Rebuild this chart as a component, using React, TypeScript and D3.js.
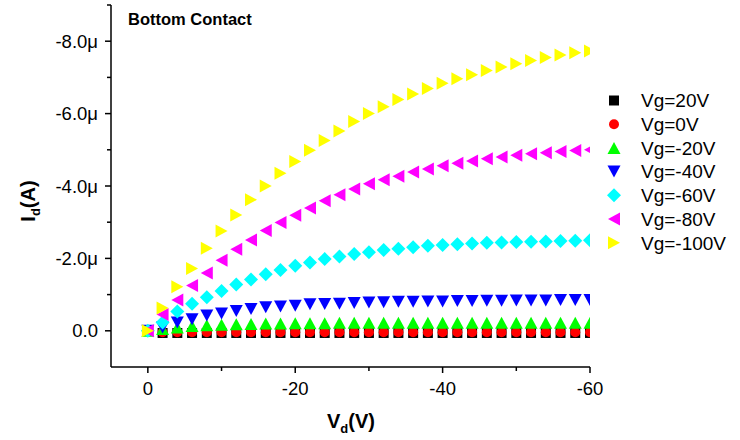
import React from "react";
import * as d3 from "d3";

const vd = [0, -2, -4, -6, -8, -10, -12, -14, -16, -18, -20, -22, -24, -26, -28, -30, -32, -34, -36, -38, -40, -42, -44, -46, -48, -50, -52, -54, -56, -58, -60];

// currents in microamps
const vg20 = [0, 0.06, 0.06, 0.06, 0.06, 0.06, 0.06, 0.06, 0.06, 0.06, 0.06, 0.06, 0.06, 0.06, 0.06, 0.06, 0.06, 0.06, 0.06, 0.06, 0.06, 0.06, 0.06, 0.06, 0.06, 0.06, 0.06, 0.06, 0.06, 0.06, 0.06];
const vg0 = [0, 0.04, 0.04, 0.04, 0.04, 0.04, 0.04, 0.04, 0.04, 0.04, 0.04, 0.04, 0.04, 0.04, 0.04, 0.04, 0.04, 0.04, 0.04, 0.04, 0.04, 0.04, 0.04, 0.04, 0.04, 0.04, 0.04, 0.04, 0.04, 0.04, 0.04];
const vgm20 = [0, -0.05, -0.09, -0.13, -0.15, -0.17, -0.18, -0.19, -0.2, -0.2, -0.21, -0.21, -0.21, -0.22, -0.22, -0.22, -0.22, -0.22, -0.22, -0.22, -0.22, -0.22, -0.22, -0.22, -0.22, -0.22, -0.22, -0.22, -0.22, -0.22, -0.22];
const vgm40 = [0, -0.09, -0.23, -0.32, -0.42, -0.48, -0.55, -0.6, -0.65, -0.67, -0.69, -0.73, -0.74, -0.75, -0.77, -0.78, -0.79, -0.8, -0.8, -0.81, -0.81, -0.82, -0.82, -0.83, -0.83, -0.84, -0.84, -0.84, -0.85, -0.85, -0.85];
const vgm60 = [0, -0.23, -0.53, -0.75, -0.93, -1.1, -1.28, -1.42, -1.56, -1.68, -1.8, -1.89, -1.98, -2.05, -2.12, -2.17, -2.23, -2.27, -2.31, -2.35, -2.37, -2.39, -2.41, -2.43, -2.44, -2.45, -2.46, -2.47, -2.48, -2.49, -2.5];
const vgm80 = [0, -0.45, -0.85, -1.25, -1.6, -1.95, -2.25, -2.51, -2.77, -2.99, -3.19, -3.39, -3.59, -3.76, -3.92, -4.06, -4.17, -4.27, -4.39, -4.47, -4.56, -4.63, -4.69, -4.75, -4.8, -4.85, -4.89, -4.92, -4.95, -4.98, -5.0];
const vgm100 = [0, -0.63, -1.22, -1.72, -2.28, -2.76, -3.2, -3.62, -4.0, -4.35, -4.68, -4.99, -5.26, -5.52, -5.78, -6.0, -6.19, -6.39, -6.54, -6.69, -6.84, -6.96, -7.07, -7.19, -7.29, -7.38, -7.47, -7.55, -7.62, -7.68, -7.73];

const seriesNames = ["Vg=20V", "Vg=0V", "Vg=-20V", "Vg=-40V", "Vg=-60V", "Vg=-80V", "Vg=-100V"];
const seriesValues = [vg20, vg0, vgm20, vgm40, vgm60, vgm80, vgm100];
const seriesColors = ["#000000", "#FF0000", "#00FF00", "#0000FF", "#00FFFF", "#FF00FF", "#FFFF00"];
const seriesShapes = ["square", "circle", "up", "down", "diamond", "left", "right"];

const xMajor = [0, -20, -40, -60];
const xMinor = [-10, -30, -50];
const yMajor = [0, -2, -4, -6, -8];
const yMinor = [-1, -3, -5, -7, -9];

const FONT = "Arial, 'Liberation Sans', sans-serif";

function shapePath(shape: string): string {
  switch (shape) {
    case "square":
      return "M-5,-5H5V5H-5Z";
    case "circle":
      return "M5,0A5,5 0 1,1 -5,0A5,5 0 1,1 5,0Z";
    case "up":
      return "M0,-6L6.5,6L-6.5,6Z";
    case "down":
      return "M0,6L6.5,-6L-6.5,-6Z";
    case "diamond":
      return "M0,-7L7,0L0,7L-7,0Z";
    case "left":
      return "M-6,0L6,-6.5L6,6.5Z";
    case "right":
      return "M6,0L-6,-6.5L-6,6.5Z";
  }
  return "";
}

export default function App() {
  const left = 111, right = 590, top = 5, bottom = 367;
  const x = d3.scaleLinear().domain([5, -60]).range([left, right]);
  const y = d3.scaleLinear().domain([1, -9]).range([bottom, top]);
  const fmtY = (v: number) => (v === 0 ? "0.0" : v.toFixed(1) + "μ");

  return (
    <svg width={740} height={440} style={{ position: "absolute", left: 0, top: 0, background: "#fff" }} fontFamily={FONT}>
      <defs>
        <clipPath id="plotclip">
          <rect x={left} y={top} width={right - left} height={bottom - top} />
        </clipPath>
      </defs>
      <rect x={0} y={0} width={740} height={440} fill="#fff" />

      <g clipPath="url(#plotclip)">
        {seriesValues.map((vals, si) => (
          <g key={si} fill={seriesColors[si]}>
            {vals.map((v, i) => (
              <path key={i} d={shapePath(seriesShapes[si])} transform={`translate(${x(vd[i])},${y(v)})`} />
            ))}
          </g>
        ))}
      </g>

      {/* axes */}
      <g stroke="#000" strokeWidth={1.5} fill="none">
        <line x1={left} y1={top} x2={left} y2={bottom} />
        <line x1={left} y1={bottom} x2={right} y2={bottom} />
        {xMajor.map((t) => (
          <line key={"xM" + t} x1={x(t)} x2={x(t)} y1={bottom} y2={bottom + 6} />
        ))}
        {xMinor.map((t) => (
          <line key={"xm" + t} x1={x(t)} x2={x(t)} y1={bottom} y2={bottom + 4} />
        ))}
        {yMajor.map((t) => (
          <line key={"yM" + t} x1={left - 6} x2={left} y1={y(t)} y2={y(t)} />
        ))}
        {yMinor.map((t) => (
          <line key={"ym" + t} x1={left - 4} x2={left} y1={y(t)} y2={y(t)} />
        ))}
      </g>

      <g fontSize={18.5} fill="#000">
        {xMajor.map((t) => (
          <text key={"xl" + t} x={x(t)} y={395} textAnchor="middle">
            {t === 0 ? "0" : String(t)}
          </text>
        ))}
        {yMajor.map((t) => (
          <text key={"yl" + t} x={98} y={y(t) + 6.5} textAnchor="end">
            {fmtY(t)}
          </text>
        ))}
      </g>

      <text x={351} y={428} textAnchor="middle" fontSize={20} fontWeight="bold">
        V<tspan fontSize={13} dy={5}>d</tspan>
        <tspan dy={-5}>(V)</tspan>
      </text>
      <text transform="translate(35,201) rotate(-90)" textAnchor="middle" fontSize={20} fontWeight="bold">
        I<tspan fontSize={13} dy={5}>d</tspan>
        <tspan dy={-5}>(A)</tspan>
      </text>

      <text x={128} y={25} fontSize={16.5} fontWeight="bold">Bottom Contact</text>

      <g>
        {seriesNames.map((name, i) => {
          const yy = 100.5 + i * 23.7;
          return (
            <g key={name}>
              <path d={shapePath(seriesShapes[i])} fill={seriesColors[i]} transform={`translate(614,${yy})`} />
              <text x={641} y={yy + 6.8} fontSize={19}>
                {name}
              </text>
            </g>
          );
        })}
      </g>
    </svg>
  );
}
